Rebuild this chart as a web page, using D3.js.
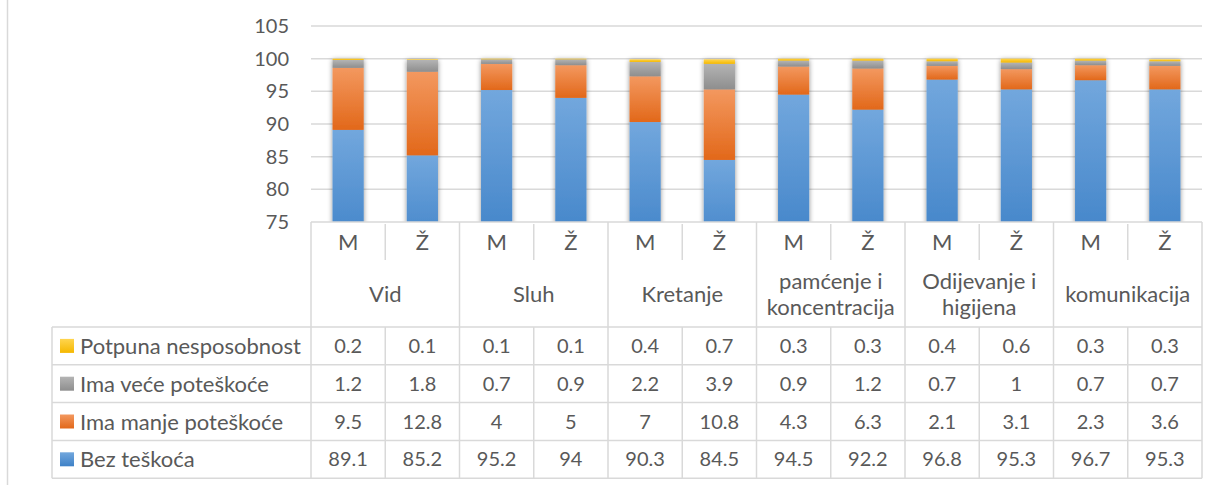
<!DOCTYPE html>
<html>
<head>
<meta charset="utf-8">
<script src="https://cdn.jsdelivr.net/npm/d3@7"></script>
<style>
  body { margin: 0; background: #fff; }
  svg text { font-family: Lato, "Open Sans", sans-serif; fill: #595959; }
</style>
</head>
<body>
<svg id="chart" width="1217" height="485"></svg>
<script>
// data
var categories = ['Vid', 'Sluh', 'Kretanje', 'pamćenje i koncentracija', 'Odijevanje i higijena', 'komunikacija'];
var catLines = [['Vid'], ['Sluh'], ['Kretanje'], ['pamćenje i', 'koncentracija'], ['Odijevanje i', 'higijena'], ['komunikacija']];
var genders = ['M', 'Ž'];
var seriesNames = ['Potpuna nesposobnost', 'Ima veće poteškoće', 'Ima manje poteškoće', 'Bez teškoća'];
var potpuna = [0.2, 0.1, 0.1, 0.1, 0.4, 0.7, 0.3, 0.3, 0.4, 0.6, 0.3, 0.3];
var vece = [1.2, 1.8, 0.7, 0.9, 2.2, 3.9, 0.9, 1.2, 0.7, 1, 0.7, 0.7];
var manje = [9.5, 12.8, 4, 5, 7, 10.8, 4.3, 6.3, 2.1, 3.1, 2.3, 3.6];
var bez = [89.1, 85.2, 95.2, 94, 90.3, 84.5, 94.5, 92.2, 96.8, 95.3, 96.7, 95.3];
var yTicks = [75, 80, 85, 90, 95, 100, 105];

// table rows top -> bottom, stack order bottom -> top is reversed
var seriesVals = [potpuna, vece, manje, bez];
var grads = [['#ffd54f', '#f5b800'], ['#b4b4b4', '#8e8e8e'], ['#f3985f', '#e2681a'], ['#72a7dd', '#3e81c7']];

var svg = d3.select('#chart');
var plotL = 311, plotR = 1202, plotT = 26, plotB = 222;
var gridCol = '#d9d9d9';
var wordSize = 22, numSize = 20;

// columns: one per (category, gender)
var cols = [];
categories.forEach(function(c, ci) {
  genders.forEach(function(g) { cols.push({cat: ci, g: g, key: ci + g}); });
});
cols.forEach(function(d, i) {
  d.vals = seriesVals.map(function(s) { return s[i]; });
});

var x = d3.scaleBand().domain(cols.map(function(d) { return d.key; }))
  .range([plotL, plotR]).paddingInner(0.58).paddingOuter(0.29);
var xc = d3.scaleBand().domain(categories).range([plotL, plotR]);
var y = d3.scaleLinear().domain([75, 105]).range([plotB, plotT]);

var defs = svg.append('defs');
grads.forEach(function(gc, i) {
  var lg = defs.append('linearGradient').attr('id', 'g' + i).attr('x1', 0).attr('y1', 0).attr('x2', 0).attr('y2', 1);
  lg.append('stop').attr('offset', '0%').attr('stop-color', gc[0]);
  lg.append('stop').attr('offset', '100%').attr('stop-color', gc[1]);
});
defs.append('clipPath').attr('id', 'plotclip').append('rect')
  .attr('x', plotL).attr('y', 0).attr('width', plotR - plotL).attr('height', plotB);
var sh = defs.append('filter').attr('id', 'shadow').attr('x', '-50%').attr('y', '-10%').attr('width', '200%').attr('height', '120%');
sh.append('feDropShadow').attr('dx', 0).attr('dy', 1).attr('stdDeviation', 2.5)
  .attr('flood-color', '#000').attr('flood-opacity', 0.45);

// outer chart border (only left edge visible)
svg.append('line').attr('x1', 7.5).attr('x2', 7.5).attr('y1', 0).attr('y2', 485)
  .attr('stroke', gridCol).attr('stroke-width', 1.5);

// gridlines + y labels
svg.append('g').selectAll('line').data(yTicks.slice(1)).join('line')
  .attr('x1', plotL).attr('x2', plotR)
  .attr('y1', function(d) { return y(d); }).attr('y2', function(d) { return y(d); })
  .attr('stroke', gridCol).attr('stroke-width', 1.5);
svg.append('g').selectAll('text').data(yTicks).join('text')
  .attr('x', 289).attr('y', function(d) { return y(d) + 7; })
  .attr('text-anchor', 'end').attr('font-size', numSize).text(function(d) { return d; });

// stacked bars
var stackOrder = [3, 2, 1, 0];
var bars = svg.append('g').attr('clip-path', 'url(#plotclip)');
cols.forEach(function(d) {
  var acc = 0;
  var gcol = bars.append('g').attr('filter', 'url(#shadow)');
  stackOrder.forEach(function(si) {
    var y0 = acc, y1 = acc + d.vals[si];
    acc = y1;
    gcol.append('rect')
      .attr('x', x(d.key)).attr('width', x.bandwidth())
      .attr('y', y(y1)).attr('height', y(Math.max(y0, 70)) - y(y1))
      .attr('fill', 'url(#g' + si + ')');
  });
});

// data table
var rowM = [plotB, 260], rowCat = [260, 327];
var rowH = 37.8;
var tbl = svg.append('g');
var line = function(x1, y1, x2, y2) {
  tbl.append('line').attr('x1', x1).attr('y1', y1).attr('x2', x2).attr('y2', y2)
    .attr('stroke', gridCol).attr('stroke-width', 1.5);
};
var step = x.step();
var tableBottom = rowCat[1] + rowH * 4;
// horizontal lines
line(plotL, plotB, plotR, plotB);
line(52, rowCat[1], plotR, rowCat[1]);
for (var r = 1; r <= 4; r++) line(52, rowCat[1] + rowH * r, plotR, rowCat[1] + rowH * r);
// vertical lines
line(52, rowCat[1], 52, tableBottom);
categories.forEach(function(c, ci) {
  var cx = xc(c);
  line(cx, plotB, cx, tableBottom);
  line(cx + step, plotB + 2, cx + step, rowM[1]);
  line(cx + step, rowCat[1], cx + step, tableBottom);
});
line(plotR, plotB, plotR, tableBottom);

// header: genders
tbl.selectAll('text.g').data(cols).join('text').attr('class', 'g')
  .attr('x', function(d) { return x(d.key) + x.bandwidth() / 2; })
  .attr('y', 250).attr('text-anchor', 'middle').attr('font-size', wordSize)
  .text(function(d) { return d.g; });
// header: categories
categories.forEach(function(c, ci) {
  var ls = catLines[ci];
  var cy = (rowCat[0] + rowCat[1]) / 2;
  ls.forEach(function(t, li) {
    tbl.append('text').attr('x', xc(c) + xc.bandwidth() / 2)
      .attr('y', cy + 8 + (li - (ls.length - 1) / 2) * 26)
      .attr('text-anchor', 'middle').attr('font-size', wordSize).text(t);
  });
});
// rows
seriesNames.forEach(function(name, si) {
  var ry = rowCat[1] + rowH * si;
  tbl.append('rect').attr('x', 60).attr('y', ry + rowH / 2 - 7).attr('width', 14).attr('height', 14)
    .attr('fill', 'url(#g' + si + ')');
  tbl.append('text').attr('x', 80).attr('y', ry + rowH / 2 + 8).attr('font-size', wordSize).text(name);
  cols.forEach(function(d) {
    tbl.append('text').attr('x', x(d.key) + x.bandwidth() / 2).attr('y', ry + rowH / 2 + 7)
      .attr('text-anchor', 'middle').attr('font-size', numSize).text(d.vals[si]);
  });
});
</script>
</body>
</html>
